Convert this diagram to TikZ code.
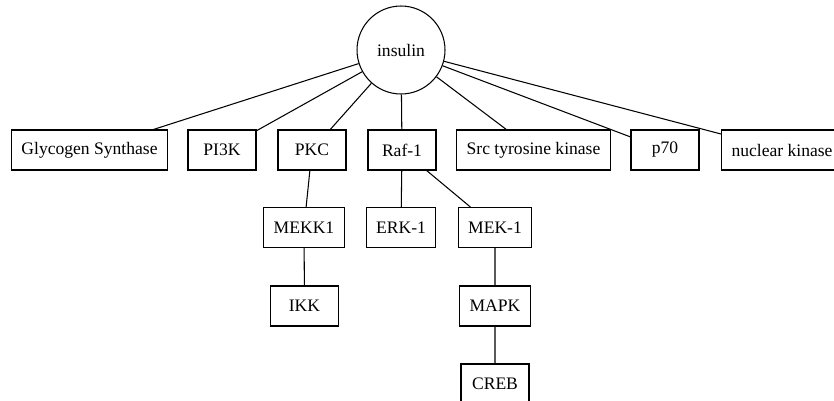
\documentclass[tikz,border=0pt]{standalone}
\usepackage{fontspec}
\setmainfont{Liberation Serif}
\begin{document}
\begin{tikzpicture}[x=0.02cm,y=-0.02cm,line width=0.6pt]
            \useasboundingbox (0,0) rectangle (834,400);
            \node[circle,draw,minimum size=1.76cm] (insulin) at (401,50) {insulin};
            \begin{scope}[every node/.style={rectangle,draw,minimum width=1.36cm,minimum height=0.8cm,inner xsep=0.2cm}]
                \node (glycogen) at (89.5,150) {Glycogen Synthase};
                \node (pi3k) at (222,150) {PI3K};
                \node (pkc) at (312,150) {PKC};
                \node (raf) at (402,150) {Raf-1};
                \node (src) at (533.5,150) {Src tyrosine kinase};
                \node (p70) at (665,150) {p70};
                \node[anchor=west] (nuclear) at (721,150) {nuclear kinase};
                \node (mekk) at (304,227.5) {MEKK1};
                \node (erk) at (401,227.5) {ERK-1};
                \node (mek) at (495,227.5) {MEK-1};
                \node (ikk) at (304.5,306) {IKK};
                \node (mapk) at (495,306) {MAPK};
                \node (creb) at (495,384) {CREB};
            \end{scope}
            \draw (insulin) -- (glycogen) (insulin) -- (pi3k) (insulin) -- (pkc) (insulin) -- (raf)
                (insulin) -- (src) (insulin) -- (p70) (insulin) -- (nuclear);
            \draw (pkc) -- (mekk) -- (ikk) (raf) -- (erk) (raf) -- (mek) -- (mapk) -- (creb);
        \end{tikzpicture}
\end{document}
